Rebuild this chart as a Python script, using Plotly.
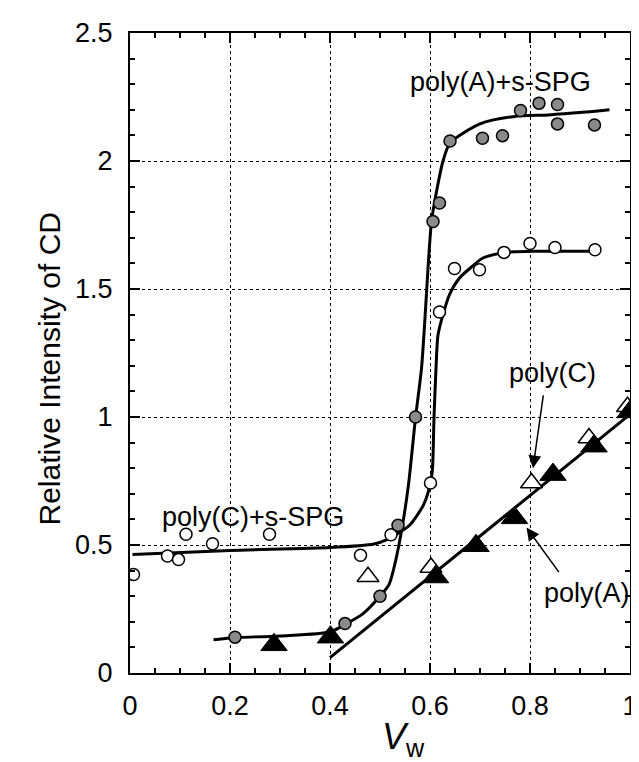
import plotly.graph_objects as go

# ---- data ----
# poly(A)+s-SPG (grey filled circles)
pa_spg_x = [0.21, 0.43, 0.50, 0.536, 0.571, 0.606, 0.619, 0.64, 0.705, 0.745, 0.781, 0.818, 0.855, 0.855, 0.929]
pa_spg_y = [0.14, 0.193, 0.30, 0.577, 1.0, 1.764, 1.836, 2.078, 2.089, 2.099, 2.197, 2.226, 2.221, 2.145, 2.141]

# poly(C)+s-SPG (open circles)
pc_spg_x = [0.007, 0.075, 0.097, 0.112, 0.165, 0.279, 0.461, 0.522, 0.601, 0.619, 0.649, 0.699, 0.748, 0.80, 0.85, 0.93]
pc_spg_y = [0.385, 0.457, 0.443, 0.542, 0.505, 0.542, 0.46, 0.54, 0.742, 1.41, 1.58, 1.575, 1.643, 1.678, 1.662, 1.653]

# poly(A) (filled triangles)
pa_x = [0.288, 0.401, 0.611, 0.692, 0.769, 0.846, 0.928, 1.0]
pa_y = [0.11, 0.14, 0.375, 0.497, 0.606, 0.775, 0.886, 1.02]

# poly(C) (open triangles)
pc_x = [0.476, 0.602, 0.803, 0.918, 0.995]
pc_y = [0.376, 0.412, 0.742, 0.918, 1.04]

# fitted curve through poly(A)+s-SPG
fit_a_x = [0.167, 0.2, 0.3, 0.4, 0.43, 0.465, 0.5, 0.518, 0.531, 0.544, 0.557, 0.571, 0.583, 0.59, 0.596,
           0.603, 0.613, 0.626, 0.64, 0.70, 0.769, 0.837, 0.905, 0.959]
fit_a_y = [0.13, 0.137, 0.145, 0.16, 0.19, 0.23, 0.30, 0.345, 0.436, 0.566, 0.736, 0.996, 1.19, 1.387, 1.58,
           1.764, 1.88, 2.0, 2.07, 2.145, 2.174, 2.18, 2.19, 2.2]

# fitted curve through poly(C)+s-SPG
fit_c_x = [0.005, 0.2, 0.4, 0.488, 0.514, 0.537, 0.56, 0.587, 0.601, 0.605, 0.608, 0.612, 0.616, 0.626,
           0.639, 0.659, 0.685, 0.705, 0.748, 0.803, 0.932]
fit_c_y = [0.463, 0.479, 0.49, 0.504, 0.521, 0.547, 0.579, 0.657, 0.742, 0.80, 0.996, 1.19, 1.32, 1.40,
           1.478, 1.543, 1.589, 1.62, 1.643, 1.647, 1.647]

# straight line through poly(A)/poly(C)
lin_x = [0.40, 1.0]
lin_y = [0.06, 1.01]

x_tickvals = [0, 0.2, 0.4, 0.6, 0.8, 1]
x_ticktext = ["0", "0.2", "0.4", "0.6", "0.8", "1"]
y_tickvals = [0, 0.5, 1, 1.5, 2, 2.5]
y_ticktext = ["0", "0.5", "1", "1.5", "2", "2.5"]

FONT = "Liberation Sans, Arial, Helvetica, sans-serif"

fig = go.Figure()

fig.add_trace(go.Scatter(x=fit_a_x, y=fit_a_y, mode="lines",
                         line=dict(color="black", width=3, shape="spline", smoothing=0.7),
                         showlegend=False, hoverinfo="skip"))
fig.add_trace(go.Scatter(x=fit_c_x, y=fit_c_y, mode="lines",
                         line=dict(color="black", width=3, shape="spline", smoothing=0.7),
                         showlegend=False, hoverinfo="skip"))
fig.add_trace(go.Scatter(x=lin_x, y=lin_y, mode="lines",
                         line=dict(color="black", width=3),
                         showlegend=False, hoverinfo="skip"))

fig.add_trace(go.Scatter(x=pc_x, y=pc_y, mode="markers", name="poly(C)",
                         marker=dict(symbol="triangle-up", size=19, color="white",
                                     line=dict(color="black", width=1.5)),
                         showlegend=False))
fig.add_trace(go.Scatter(x=pa_x, y=pa_y, mode="markers", name="poly(A)",
                         marker=dict(symbol="triangle-up", size=23, color="black",
                                     line=dict(color="black", width=1)),
                         showlegend=False))
fig.add_trace(go.Scatter(x=pc_spg_x, y=pc_spg_y, mode="markers", name="poly(C)+s-SPG",
                         marker=dict(symbol="circle", size=12, color="white",
                                     line=dict(color="black", width=1.5)),
                         showlegend=False))
fig.add_trace(go.Scatter(x=pa_spg_x, y=pa_spg_y, mode="markers", name="poly(A)+s-SPG",
                         marker=dict(symbol="circle", size=12, color="#8a8a8a",
                                     line=dict(color="black", width=1.5)),
                         showlegend=False))

ann_font = dict(family=FONT, size=27, color="black")
annotations = [
    dict(x=0.74, y=2.31, xref="x", yref="y", text="poly(A)+s-SPG", showarrow=False, font=ann_font),
    dict(x=0.245, y=0.61, xref="x", yref="y", text="poly(C)+s-SPG", showarrow=False, font=ann_font),
    dict(x=0.845, y=1.17, xref="x", yref="y", text="poly(C)", showarrow=False, font=ann_font),
    dict(x=0.913, y=0.312, xref="x", yref="y", text="poly(A)", showarrow=False, font=ann_font),
    dict(x=0.806, y=0.80, ax=0.827, ay=1.09, xref="x", yref="y", axref="x", ayref="y",
         text="", showarrow=True, arrowhead=2, arrowsize=1.7, arrowwidth=1.5, arrowcolor="black"),
    dict(x=0.793, y=0.568, ax=0.86, ay=0.388, xref="x", yref="y", axref="x", ayref="y",
         text="", showarrow=True, arrowhead=2, arrowsize=1.7, arrowwidth=1.5, arrowcolor="black"),
    dict(x=0.547, y=-0.103, xref="paper", yref="paper", text="<i>V</i><sub>w</sub>",
         xanchor="center", showarrow=False, font=dict(family=FONT, size=36, color="black"),
         yanchor="middle"),
    dict(x=-0.163, y=0.475, xref="paper", yref="paper", text="Relative Intensity of CD",
         xanchor="center", yanchor="middle", textangle=-90, showarrow=False,
         font=dict(family=FONT, size=30, color="black")),
]

axis_common = dict(
    showline=True, linecolor="black", linewidth=2, mirror="ticks",
    ticks="inside", ticklen=10, tickwidth=1.5, tickcolor="black",
    showgrid=True, gridcolor="black", gridwidth=1, griddash="dot",
    zeroline=False, tickfont=dict(family=FONT, size=27, color="black"),
)

fig.update_layout(
    width=639, height=762,
    margin=dict(l=122, r=9, t=25, b=97),
    paper_bgcolor="white", plot_bgcolor="white",
    xaxis=dict(range=[0, 1], tickvals=x_tickvals, ticktext=x_ticktext,
               minor=dict(dtick=0.05, ticklen=5, ticks="inside", tickcolor="black", showgrid=False),
               ticklabelstandoff=8, **axis_common),
    yaxis=dict(range=[0, 2.5], tickvals=y_tickvals, ticktext=y_ticktext,
               minor=dict(dtick=0.1, ticklen=5, ticks="inside", tickcolor="black", showgrid=False),
               ticklabelstandoff=10, **axis_common),
    annotations=annotations,
    showlegend=False,
)

fig.write_html("out.html")
